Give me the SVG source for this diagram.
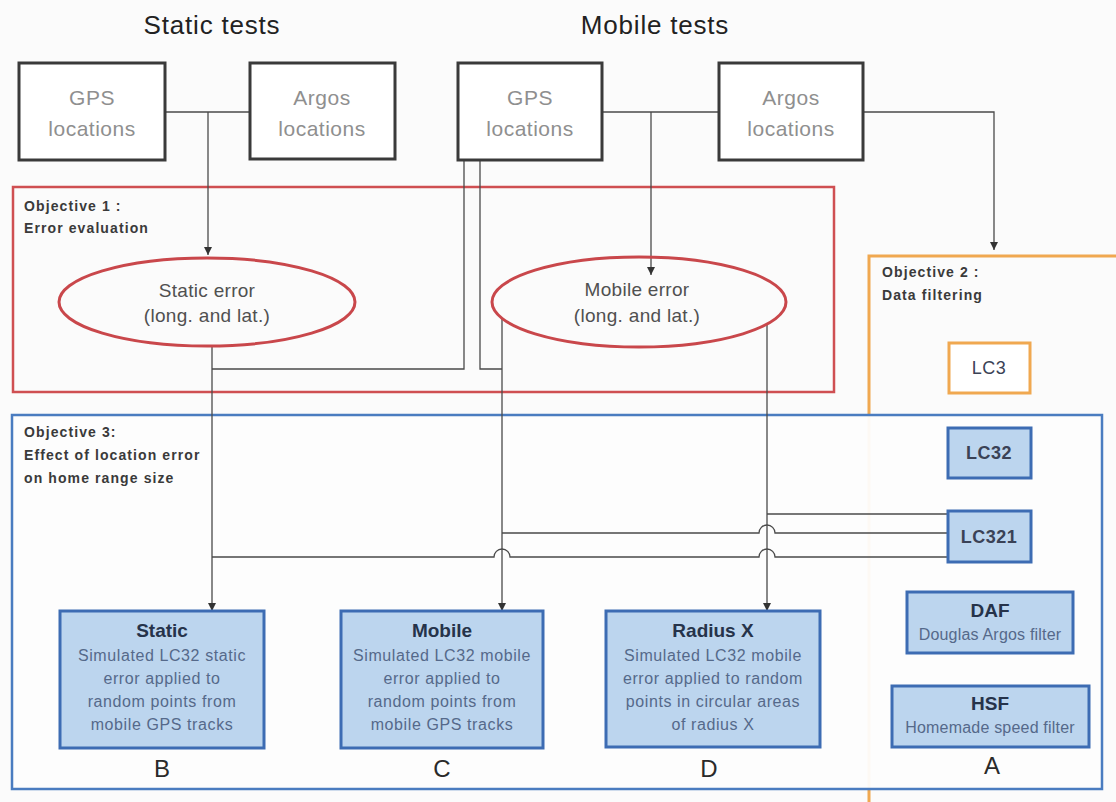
<svg xmlns="http://www.w3.org/2000/svg" width="1116" height="802" viewBox="0 0 1116 802">
<defs>
<marker id="arr" markerWidth="9" markerHeight="9" refX="8" refY="4" orient="auto" markerUnits="userSpaceOnUse"><path d="M0,0 L8,4 L0,8 z" fill="#333"/></marker>
<style>
.src{fill:#fff;stroke:#3a3a3a;stroke-width:3}
.srct{font-family:"Liberation Sans",Arial,sans-serif;font-size:21px;fill:#8f8f8f;text-anchor:middle;letter-spacing:0.5px}
.title{font-family:"Liberation Sans",Arial,sans-serif;font-size:26px;fill:#222;text-anchor:middle;letter-spacing:0.8px}
.obj{font-family:"Liberation Sans",Arial,sans-serif;font-size:14px;font-weight:bold;fill:#3a3a3a;letter-spacing:1.1px}
.ell{fill:none;stroke:#c9474b;stroke-width:3}
.ellt{font-family:"Liberation Sans",Arial,sans-serif;font-size:19px;fill:#505050;text-anchor:middle;letter-spacing:0.3px}
.blue{fill:#bcd5ee;stroke:#3d6cb3;stroke-width:3}
.bt{font-family:"Liberation Sans",Arial,sans-serif;font-size:19px;font-weight:bold;fill:#26334a;text-anchor:middle}
.bb{font-family:"Liberation Sans",Arial,sans-serif;font-size:16px;fill:#55698a;text-anchor:middle;letter-spacing:0.6px}
.lc{font-family:"Liberation Sans",Arial,sans-serif;font-size:18px;font-weight:bold;fill:#3a4256;text-anchor:middle;letter-spacing:0.5px}
.let{font-family:"Liberation Sans",Arial,sans-serif;font-size:24px;fill:#2a2a2a;text-anchor:middle}
.con{fill:none;stroke:#4a4a4a;stroke-width:1.3}
</style>
</defs>
<rect x="0" y="0" width="1116" height="802" fill="#fbfbfb"/>

<g id="titles">
<text class="title" x="212" y="34">Static tests</text>
<text class="title" x="655" y="34">Mobile tests</text>
</g>

<g id="objective2">
<rect x="869" y="256" width="260" height="560" fill="none" stroke="#f0a850" stroke-width="3"/>
<text class="obj" x="882" y="277">Objective 2 :</text>
<text class="obj" x="882" y="300">Data filtering</text>
</g>

<g id="objective1">
<rect x="13" y="187" width="821" height="205" fill="none" stroke="#cf4f52" stroke-width="2.5"/>
<text class="obj" x="24" y="211">Objective 1 :</text>
<text class="obj" x="24" y="233">Error evaluation</text>
</g>

<g id="objective3">
<rect x="12" y="415" width="1090" height="374" fill="#fdfdfd" fill-opacity="0.95" stroke="#4a7cc0" stroke-width="2.5"/>
<text class="obj" x="24" y="437">Objective 3:</text>
<text class="obj" x="24" y="460">Effect of location error</text>
<text class="obj" x="24" y="483">on home range size</text>
</g>

<g id="connectors">
<path class="con" d="M165,112 H250"/>
<path class="con" d="M208,112 V255" marker-end="url(#arr)"/>
<path class="con" d="M602,112 H719"/>
<path class="con" d="M651,112 V275" marker-end="url(#arr)"/>
<path class="con" d="M863,112 H994 V250" marker-end="url(#arr)"/>
<path class="con" d="M464,160 V369 H212"/>
<path class="con" d="M480,160 V369 H502"/>
<path class="con" d="M212,346 V611" marker-end="url(#arr)"/>
<path class="con" d="M502,318 V611" marker-end="url(#arr)"/>
<path class="con" d="M767,324 V611" marker-end="url(#arr)"/>
<path class="con" d="M767,514 H948"/>
<path class="con" d="M502,533 H759 A8,8 0 0 1 775,533 H948"/>
<path class="con" d="M212,557 H494 A8,8 0 0 1 510,557 H759 A8,8 0 0 1 775,557 H948"/>
</g>

<g id="gps-static">
<rect class="src" x="19" y="63" width="146" height="97"/>
<text class="srct" x="92" y="105">GPS</text>
<text class="srct" x="92" y="136">locations</text>
</g>
<g id="argos-static">
<rect class="src" x="250" y="63" width="145" height="96"/>
<text class="srct" x="322" y="105">Argos</text>
<text class="srct" x="322" y="136">locations</text>
</g>
<g id="gps-mobile">
<rect class="src" x="458" y="63" width="144" height="97"/>
<text class="srct" x="530" y="105">GPS</text>
<text class="srct" x="530" y="136">locations</text>
</g>
<g id="argos-mobile">
<rect class="src" x="719" y="63" width="144" height="97"/>
<text class="srct" x="791" y="105">Argos</text>
<text class="srct" x="791" y="136">locations</text>
</g>

<g id="static-error">
<ellipse class="ell" cx="207" cy="302" rx="148" ry="44"/>
<text class="ellt" x="207" y="297">Static error</text>
<text class="ellt" x="207" y="322">(long. and lat.)</text>
</g>
<g id="mobile-error">
<ellipse class="ell" cx="639" cy="302" rx="147" ry="45"/>
<text class="ellt" x="637" y="296">Mobile error</text>
<text class="ellt" x="637" y="322">(long. and lat.)</text>
</g>

<g id="lc3">
<rect x="949" y="343" width="81" height="50" fill="#fff" stroke="#f0a850" stroke-width="3"/>
<text class="lc" x="989" y="374" style="font-weight:normal">LC3</text>
</g>
<g id="lc32">
<rect class="blue" x="948" y="428" width="83" height="50"/>
<text class="lc" x="989" y="459">LC32</text>
</g>
<g id="lc321">
<rect class="blue" x="948" y="511" width="83" height="51"/>
<text class="lc" x="989" y="543">LC321</text>
</g>

<g id="static-box">
<rect class="blue" x="60" y="611" width="204" height="137"/>
<text class="bt" x="162" y="637">Static</text>
<text class="bb" x="162" y="661">Simulated LC32 static</text>
<text class="bb" x="162" y="684">error applied to</text>
<text class="bb" x="162" y="707">random points from</text>
<text class="bb" x="162" y="730">mobile GPS tracks</text>
<text class="let" x="162" y="777">B</text>
</g>
<g id="mobile-box">
<rect class="blue" x="341" y="611" width="202" height="137"/>
<text class="bt" x="442" y="637">Mobile</text>
<text class="bb" x="442" y="661">Simulated LC32 mobile</text>
<text class="bb" x="442" y="684">error applied to</text>
<text class="bb" x="442" y="707">random points from</text>
<text class="bb" x="442" y="730">mobile GPS tracks</text>
<text class="let" x="442" y="777">C</text>
</g>
<g id="radius-box">
<rect class="blue" x="606" y="611" width="214" height="136"/>
<text class="bt" x="713" y="637">Radius X</text>
<text class="bb" x="713" y="661">Simulated LC32 mobile</text>
<text class="bb" x="713" y="684">error applied to random</text>
<text class="bb" x="713" y="707">points in circular areas</text>
<text class="bb" x="713" y="730">of radius X</text>
<text class="let" x="709" y="777">D</text>
</g>
<g id="daf">
<rect class="blue" x="907" y="592" width="166" height="61"/>
<text class="bt" x="990" y="617">DAF</text>
<text class="bb" x="990" y="640" style="letter-spacing:0.2px">Douglas Argos filter</text>
</g>
<g id="hsf">
<rect class="blue" x="892" y="686" width="197" height="61"/>
<text class="bt" x="990" y="710">HSF</text>
<text class="bb" x="990" y="733" style="letter-spacing:0.2px">Homemade speed filter</text>
<text class="let" x="992" y="774">A</text>
</g>
</svg>
